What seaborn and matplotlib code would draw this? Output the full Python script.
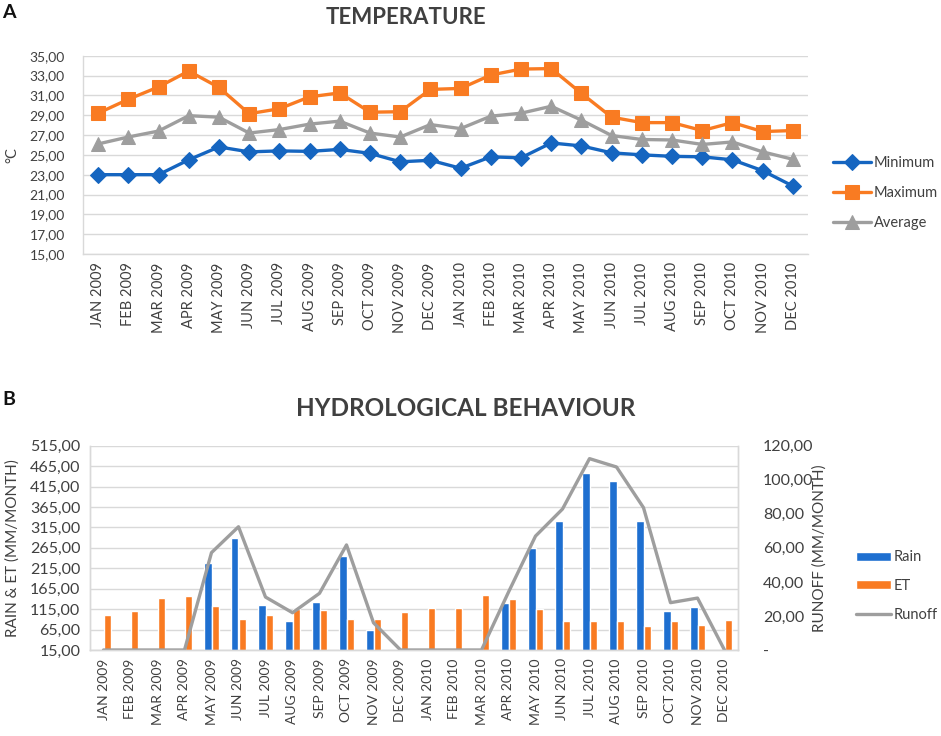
import matplotlib
matplotlib.use("Agg")
import matplotlib.pyplot as plt
import seaborn as sns
import pandas as pd
import numpy as np
from matplotlib.ticker import FuncFormatter

months = ["JAN 2009", "FEB 2009", "MAR 2009", "APR 2009", "MAY 2009", "JUN 2009",
          "JUL 2009", "AUG 2009", "SEP 2009", "OCT 2009", "NOV 2009", "DEC 2009",
          "JAN 2010", "FEB 2010", "MAR 2010", "APR 2010", "MAY 2010", "JUN 2010",
          "JUL 2010", "AUG 2010", "SEP 2010", "OCT 2010", "NOV 2010", "DEC 2010"]

t_min = [23.0, 23.0, 23.0, 24.5, 25.8, 25.3, 25.4, 25.35, 25.55, 25.15, 24.3, 24.45,
         23.65, 24.8, 24.7, 26.2, 25.9, 25.2, 25.0, 24.85, 24.8, 24.5, 23.4, 21.85]
t_max = [29.2, 30.6, 31.85, 33.45, 31.8, 29.15, 29.65, 30.85, 31.25, 29.3, 29.35, 31.6,
         31.7, 33.05, 33.65, 33.7, 31.2, 28.8, 28.25, 28.25, 27.45, 28.25, 27.35, 27.45]
t_avg = [26.1, 26.8, 27.4, 28.95, 28.8, 27.2, 27.55, 28.1, 28.4, 27.2, 26.8, 28.05,
         27.65, 28.9, 29.2, 29.9, 28.5, 26.95, 26.55, 26.5, 26.05, 26.3, 25.3, 24.55]

rain = [0, 0, 0, 0, 229, 290, 124, 87, 132, 246, 64, 0,
        0, 0, 0, 131, 265, 330, 448, 428, 331, 110, 120, 0]
et = [100, 110, 143, 148, 123, 92, 100, 115, 114, 92, 90, 109,
      118, 119, 150, 139, 115, 87, 85, 87, 73, 85, 77, 88]
runoff = [0, 0, 0, 0, 57.2, 72.4, 31.1, 21.9, 33.3, 61.7, 16.0, 0,
          0, 0, 0, 34.0, 66.9, 82.8, 112.4, 107.5, 83.6, 27.8, 30.5, 0]

BLUE = "#1565C0"
BLUE_BAR = "#1E6FD0"
ORANGE = "#F97B22"
GRAY = "#9E9E9E"
GRID = "#D9D9D9"
TXT = "#404040"

sns.set_theme(style="white")
plt.rcParams["font.family"] = ["Lato", "DejaVu Sans"]
plt.rcParams["text.color"] = TXT

W, H = 941, 736
fig = plt.figure(figsize=(W / 100, H / 100), dpi=100)


def comma_fmt(v, pos=None):
    return f"{v:.2f}".replace(".", ",")


# ---------------- Panel A ----------------
ax1 = fig.add_axes([83 / W, 1 - 254 / H, 725 / W, 198.3 / H])
idx = np.arange(len(months))
sns.lineplot(x=idx, y=t_min, ax=ax1, color=BLUE, marker="D", markersize=8,
             markeredgecolor=BLUE, markerfacecolor=BLUE, linewidth=2.4, label="Minimum")
sns.lineplot(x=idx, y=t_max, ax=ax1, color=ORANGE, marker="s", markersize=9.5,
             markeredgecolor=ORANGE, markerfacecolor=ORANGE, linewidth=2.4, label="Maximum")
sns.lineplot(x=idx, y=t_avg, ax=ax1, color=GRAY, marker="^", markersize=10,
             markeredgecolor=GRAY, markerfacecolor=GRAY, linewidth=2.4, label="Average")
ax1.set_xlim(-0.5, len(months) - 0.5)
ax1.set_ylim(15, 35)
ax1.set_yticks(np.arange(15, 35.1, 2))
ax1.yaxis.set_major_formatter(FuncFormatter(comma_fmt))
ax1.set_xticks(idx)
ax1.set_xticklabels(months, rotation=90, fontsize=10.5, color=TXT)
ax1.tick_params(axis="y", labelsize=10, labelcolor=TXT, length=0, pad=13)
ax1.tick_params(axis="x", length=0, pad=6)
ax1.grid(axis="y", color=GRID, linewidth=1)
ax1.set_axisbelow(True)
for s in ["top", "right"]:
    ax1.spines[s].set_visible(False)
for s in ["left", "bottom"]:
    ax1.spines[s].set_color(GRID)
    ax1.spines[s].set_linewidth(1)
ax1.set_xlabel("")
ax1.set_ylabel("°C", fontsize=10.5, color=TXT)
ax1.yaxis.label.set_verticalalignment("center")
ax1.yaxis.set_label_coords(-(83 - 12) / 725, 0.5)
h, l = ax1.get_legend_handles_labels()
ax1.get_legend().remove()
fig.legend(h, l, loc="center left", bbox_to_anchor=(833 / W, 1 - 193 / H),
           frameon=False, fontsize=10.5, handlelength=2.6, handletextpad=0.2,
           labelspacing=1.1, borderaxespad=0, borderpad=0)

# ---------------- Panel B ----------------
ax2 = fig.add_axes([90 / W, 1 - 650 / H, 648 / W, 204.3 / H])
df = pd.DataFrame({
    "month": months * 2,
    "value": rain + et,
    "var": ["Rain"] * len(months) + ["ET"] * len(months),
})
sns.barplot(data=df, x="month", y="value", hue="var", order=months,
            hue_order=["Rain", "ET"], palette={"Rain": BLUE_BAR, "ET": ORANGE},
            width=0.56, gap=0, saturation=1, ax=ax2, errorbar=None)
ax2.set_xlim(-0.5, len(months) - 0.5)
ax2.set_ylim(15, 515)
ax2.set_yticks(np.arange(15, 516, 50))
ax2.yaxis.set_major_formatter(FuncFormatter(comma_fmt))
ax2.tick_params(axis="y", labelsize=11.5, labelcolor=TXT, length=0, pad=7)
ax2.tick_params(axis="x", length=0, pad=6)
ax2.set_xticks(idx)
ax2.set_xticklabels(months, rotation=90, fontsize=10, color=TXT)
ax2.grid(axis="y", color=GRID, linewidth=1)
ax2.set_axisbelow(True)
ax2.set_xlabel("")
ax2.set_ylabel("RAIN & ET (MM/MONTH)", fontsize=11, color=TXT)
ax2.yaxis.label.set_verticalalignment("center")
ax2.yaxis.set_label_coords(-(90 - 13) / 648, 0.5)

ax3 = ax2.twinx()
sns.lineplot(x=idx, y=runoff, ax=ax3, color=GRAY, linewidth=2.4, label="Runoff")
ax3.set_xlim(-0.5, len(months) - 0.5)
ax3.set_ylim(0, 120)
ax3.set_yticks(np.arange(0, 121, 20))
ax3.yaxis.set_major_formatter(FuncFormatter(lambda v, p: "-" if v == 0 else comma_fmt(v)))
ax3.tick_params(axis="y", labelsize=11.5, labelcolor=TXT, length=0, pad=18)
ax3.set_ylabel("RUNOFF (MM/MONTH)", fontsize=11, color=TXT)
ax3.yaxis.label.set_verticalalignment("center")
ax3.yaxis.set_label_coords(1 + (820 - 738) / 648, 0.5)
for a in (ax2, ax3):
    a.spines["top"].set_visible(False)
    for s in ["left", "right", "bottom"]:
        a.spines[s].set_color(GRID)
        a.spines[s].set_linewidth(1)
ax3.grid(False)

h2, l2 = ax2.get_legend_handles_labels()
h3, l3 = ax3.get_legend_handles_labels()
if ax2.get_legend():
    ax2.get_legend().remove()
if ax3.get_legend():
    ax3.get_legend().remove()
fig.legend(h2 + h3, l2 + l3, loc="center left", bbox_to_anchor=(856 / W, 1 - 586 / H),
           frameon=False, fontsize=10.5, handlelength=2.4, handleheight=0.55,
           handletextpad=0.2, labelspacing=1.0, borderaxespad=0, borderpad=0)

# ---------------- Titles and panel letters ----------------
fig.text(406 / W, 1 - 18 / H, "TEMPERATURE", ha="center", va="center",
         fontsize=16, fontweight="bold", color=TXT)
fig.text(466 / W, 1 - 408 / H, "HYDROLOGICAL BEHAVIOUR", ha="center", va="center",
         fontsize=17.5, fontweight="bold", color=TXT)
fig.text(9 / W, 1 - 13 / H, "A", ha="center", va="center", fontsize=14,
         fontweight="bold", color="#111111")
fig.text(9 / W, 1 - 399 / H, "B", ha="center", va="center", fontsize=14,
         fontweight="bold", color="#111111")

fig.savefig("out.png", dpi=100, facecolor="white")
